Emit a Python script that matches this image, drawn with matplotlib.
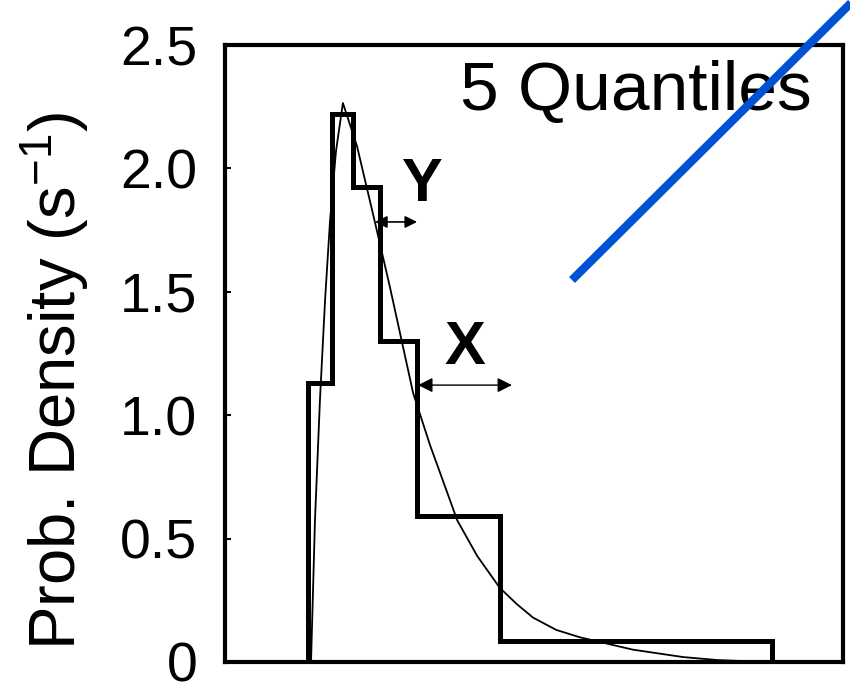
import numpy as np
import matplotlib
matplotlib.use("Agg")
import matplotlib.pyplot as plt
from matplotlib.lines import Line2D

plt.rcParams['font.family'] = ['Liberation Sans', 'DejaVu Sans']
plt.rcParams['mathtext.fontset'] = 'custom'
plt.rcParams['mathtext.rm'] = 'Liberation Sans'
plt.rcParams['mathtext.it'] = 'Liberation Sans'

# quantile histogram (bin edges in s, density in 1/s)
bin_edges = [0.336, 0.433, 0.518, 0.627, 0.777, 1.112, 2.213]
bin_heights = [1.13, 2.22, 1.925, 1.30, 0.59, 0.085]

# fitted density curve
curve_t = [0.348, 0.364, 0.384, 0.405, 0.425, 0.449, 0.477, 0.534, 0.607,
           0.667, 0.761, 0.829, 0.910, 0.939, 1.020, 1.112, 1.180, 1.246,
           1.340, 1.436, 1.650, 1.853, 1.990, 2.193]
curve_p = [0.0, 0.575, 1.06, 1.47, 1.79, 2.07, 2.265, 2.09, 1.78,
           1.52, 1.09, 0.88, 0.656, 0.575, 0.43, 0.30, 0.235, 0.18,
           0.13, 0.10, 0.05, 0.02, 0.008, 0.0]

yticks = [0, 0.5, 1.0, 1.5, 2.0, 2.5]
ytick_labels = ['0', '0.5', '1.0', '1.5', '2.0', '2.5']

fig = plt.figure(figsize=(8.5, 6.89), dpi=100)
ax = fig.add_axes([225/850, 27/689, 618/850, 617/689])

ax.stairs(bin_heights, bin_edges, color='black', lw=3.6)
ax.plot(curve_t, curve_p, color='black', lw=1.3)

# Y / X markers with double arrows
ax.annotate('', xy=(0.607, 1.783), xytext=(0.777, 1.783),
            arrowprops=dict(arrowstyle='<|-|>', color='black', lw=1.2,
                            mutation_scale=18, shrinkA=0, shrinkB=0))
ax.annotate('', xy=(0.781, 1.122), xytext=(1.161, 1.122),
            arrowprops=dict(arrowstyle='<|-|>', color='black', lw=1.0,
                            mutation_scale=22, shrinkA=0, shrinkB=0))
ax.text(0.797, 1.93, 'Y', fontsize=44, fontweight='bold', ha='center', va='center')
ax.text(0.971, 1.27, 'X', fontsize=44, fontweight='bold', ha='center', va='center')

ax.text(2.375, 2.237, '5 Quantiles', fontsize=50, ha='right', va='baseline')

ax.set_xlim(0, 2.5)
ax.set_ylim(0, 2.5)
ax.set_xticks([])
ax.set_yticks(yticks)
ax.set_yticklabels(ytick_labels)
ax.tick_params(axis='y', direction='in', length=4, width=1.5, labelsize=40, pad=20)
for s in ax.spines.values():
    s.set_linewidth(3)

ax.set_ylabel(r'Prob. Density (s$^{-1}$)', fontsize=47)
ax.yaxis.set_label_coords(-0.215, 0.455)

# blue overlay stroke
fig.add_artist(Line2D([572/850, 862/850], [1 - 280/689, 1 + 8/689],
                      color='#0052d4', lw=6, solid_capstyle='butt'))

fig.savefig('out.png', dpi=100)
